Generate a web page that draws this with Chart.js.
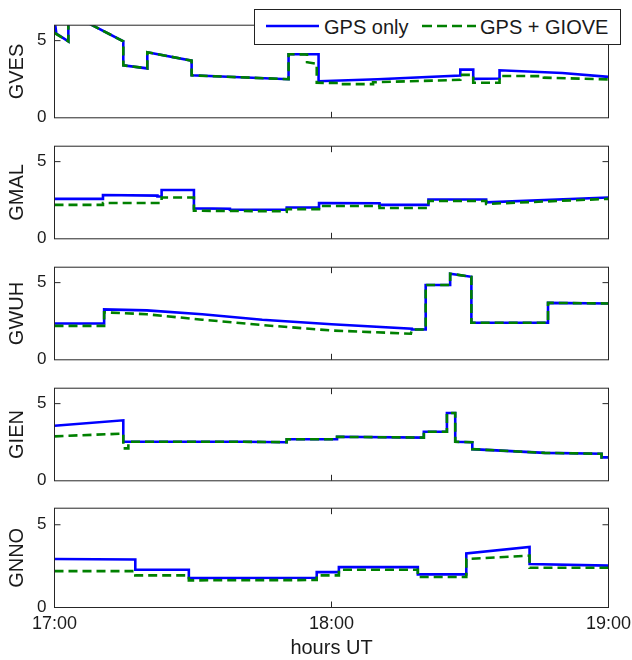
<!DOCTYPE html>
<html><head><meta charset="utf-8">
<script src="https://cdn.jsdelivr.net/npm/chart.js@4/dist/chart.umd.min.js"></script>
<style>
html,body{margin:0;padding:0;background:#fff;}
#wrap{position:relative;width:632px;height:660px;overflow:hidden;background:#fff;}
#wrap canvas{position:absolute;left:0;}
#legend{position:absolute;left:254px;top:9px;width:367px;height:36px;box-sizing:border-box;border:1px solid #222;background:#fff;font:20px "Liberation Sans",Arial,sans-serif;color:#1a1a1a;z-index:5;}
#legend span{position:absolute;top:5px;line-height:24px;white-space:nowrap;}
#legend svg{position:absolute;left:0;top:0;}
</style></head>
<body><div id="wrap">
<div id="legend">
<svg width="365" height="34"><line x1="11" y1="16" x2="64" y2="16" stroke="#0000ff" stroke-width="2.6"/><line x1="167" y1="16" x2="221" y2="16" stroke="#008000" stroke-width="2.6" stroke-dasharray="10,5"/></svg>
<span style="left:69px">GPS only</span><span style="left:225px">GPS + GIOVE</span>
</div>
</div>
<script>
// minutes after 17:00
const timeTicks = [0, 60, 120];
const timeLabels = ['17:00', '18:00', '19:00'];
const stations = ['GVES', 'GMAL', 'GWUH', 'GIEN', 'GNNO'];
const seriesNames = ['GPS only', 'GPS + GIOVE'];

const gvesGps = [[0,6.4],[0.4,5.45],[3.0,4.95],[3.0,6.8],[14.9,4.96],[14.9,3.4],[20.1,3.2],[20.1,4.25],[29.7,3.7],[29.7,2.75],[50.7,2.5],[50.7,4.12],[57.2,4.12],[57.2,2.37],[70,2.5],[87.9,2.74],[87.9,3.12],[90.7,3.12],[90.7,2.52],[96.4,2.55],[96.4,3.08],[110,2.9],[120,2.65]];
const gvesGiove = [[0,5.5],[3.0,4.95],[3.0,6.8],[14.9,4.96],[14.9,3.4],[20.1,3.2],[20.1,4.25],[29.7,3.7],[29.7,2.75],[50.7,2.5],[50.7,4.12],[54.7,4.1],[54.7,3.6],[56.8,3.5],[56.8,2.27],[62,2.25],[62,2.18],[69,2.18],[69,2.3],[87.9,2.46],[87.9,2.78],[90.7,2.78],[90.7,2.27],[96.4,2.27],[96.4,2.71],[106,2.7],[106,2.6],[120,2.49]];

const gmalGps = [[0,2.59],[10.5,2.59],[10.5,2.84],[22.3,2.8],[22.3,2.74],[23.2,2.74],[23.2,3.16],[30.2,3.16],[30.2,1.97],[38,1.95],[38,1.88],[50.3,1.88],[50.3,2.03],[57.3,2.03],[57.3,2.32],[70.4,2.3],[70.4,2.2],[81,2.2],[81,2.55],[93.5,2.55],[93.5,2.36],[120,2.68]];
const gmalGiove = [[0,2.2],[10.5,2.2],[10.5,2.32],[23.2,2.32],[23.2,2.68],[30.2,2.68],[30.2,1.82],[49.5,1.78],[50.3,1.75],[50.3,1.92],[57.3,1.92],[57.3,2.13],[70.4,2.13],[70.4,2.0],[81,2.0],[81,2.45],[93.5,2.45],[93.5,2.26],[120,2.59]];

const gwuhGps = [[0,2.35],[10.75,2.35],[10.75,3.27],[20,3.2],[32,2.95],[45,2.6],[60,2.3],[77.4,2.02],[77.4,1.96],[80.4,1.96],[80.4,4.85],[85.7,4.85],[85.7,5.58],[90.3,5.38],[90.3,2.4],[106.9,2.4],[106.9,3.69],[120,3.65]];
const gwuhGiove = [[0,2.2],[10.75,2.2],[10.75,3.08],[20,2.95],[32,2.6],[45,2.25],[60,1.9],[77.2,1.69],[77.4,1.96],[80.4,1.96],[80.4,4.85],[85.7,4.85],[85.7,5.58],[90.3,5.38],[90.3,2.4],[106.9,2.4],[106.9,3.69],[120,3.65]];

const gienGps = [[0,3.57],[14.9,3.92],[14.9,2.53],[40.7,2.53],[50.3,2.5],[50.3,2.69],[61.2,2.69],[61.2,2.85],[80,2.8],[80,3.18],[85,3.18],[85,4.39],[86.8,4.39],[86.8,2.53],[90.5,2.5],[90.5,2.05],[106.2,1.81],[118.5,1.75],[118.5,1.52],[120,1.52]];
const gienGiove = [[0,2.88],[14.9,3.06],[14.9,2.1],[16,2.1],[16,2.53],[40.7,2.53],[50.3,2.5],[50.3,2.69],[61.2,2.69],[61.2,2.85],[80,2.8],[80,3.18],[85,3.18],[85,4.39],[86.8,4.39],[86.8,2.53],[90.5,2.5],[90.5,2.05],[106.2,1.81],[118.5,1.75],[118.5,1.52],[120,1.52]];

const gnnoGps = [[0,2.93],[17.5,2.9],[17.5,2.28],[29.1,2.28],[29.1,1.78],[56.8,1.8],[56.8,2.14],[61.6,2.14],[61.6,2.44],[78.7,2.44],[78.7,2.0],[89.2,2.0],[89.2,3.27],[102.9,3.66],[102.9,2.63],[120,2.53]];
const gnnoGiove = [[0,2.2],[17.5,2.2],[17.5,1.94],[29.1,1.94],[29.1,1.64],[56.8,1.66],[56.8,1.94],[61.6,1.94],[61.6,2.28],[78.7,2.28],[78.7,1.84],[89.2,1.84],[89.2,2.93],[102.9,3.13],[102.9,2.4],[120,2.4]];

const gpsSeries = [gvesGps, gmalGps, gwuhGps, gienGps, gnnoGps];
const gioveSeries = [gvesGiove, gmalGiove, gwuhGiove, gienGiove, gnnoGiove];

// layout
const W = 632, H = 660;
const panelTops = [19.5, 140.5, 261.5, 382.5, 502.5];
const panelH = 105;
const plotLeft = 54.5, plotRight = 608.5;
const FONT = '"Liberation Sans", Arial, Helvetica, sans-serif';
const INK = '#1a1a1a';

const framePlugin = {
  id: 'frame',
  afterDatasetsDraw(chart) {
    const {ctx, chartArea: a, scales: {x, y}} = chart;
    ctx.save();
    ctx.strokeStyle = '#262626';
    ctx.lineWidth = 1;
    ctx.strokeRect(a.left, a.top, a.right - a.left, a.bottom - a.top);
    ctx.beginPath();
    const xt = x.getPixelForValue(timeTicks[1]);
    ctx.moveTo(xt, a.bottom); ctx.lineTo(xt, a.bottom - 6);
    ctx.moveTo(xt, a.top); ctx.lineTo(xt, a.top + 6);
    const yt = y.getPixelForValue(5);
    ctx.moveTo(a.left, yt); ctx.lineTo(a.left + 6, yt);
    ctx.moveTo(a.right, yt); ctx.lineTo(a.right - 6, yt);
    ctx.stroke();
    ctx.restore();
  }
};

const wrap = document.getElementById('wrap');
const legendEl = document.getElementById('legend');

stations.forEach((name, i) => {
  const last = i === stations.length - 1;
  const top = panelTops[i];
  const cTop = Math.floor(top) - 12;
  const cH = last ? H - cTop : panelH + 24;
  const cv = document.createElement('canvas');
  cv.width = W; cv.height = cH;
  cv.style.top = cTop + 'px';
  wrap.insertBefore(cv, legendEl);
  const padTop = top - cTop;
  const axisH = last ? (H - (top + panelH)) : 0;
  const padBottom = last ? 0 : cH - padTop - panelH;

  new Chart(cv, {
    type: 'line',
    data: {
      datasets: [
        {label: seriesNames[0], data: gpsSeries[i].map(p => ({x: p[0], y: p[1]})),
         borderColor: '#0000ff', borderWidth: 2.6, pointRadius: 0, tension: 0, fill: false, order: 2, clip: 0},
        {label: seriesNames[1], data: gioveSeries[i].map(p => ({x: p[0], y: p[1]})),
         borderColor: '#008000', borderWidth: 2.6, borderDash: [9, 5], pointRadius: 0, tension: 0, fill: false, order: 1, clip: 0}
      ]
    },
    options: {
      responsive: false, animation: false, devicePixelRatio: 1,
      layout: {padding: {left: 0, right: W - plotRight, top: padTop, bottom: padBottom}},
      plugins: {legend: {display: false}, tooltip: {enabled: false}},
      scales: {
        x: {
          type: 'linear', min: 0, max: 120,
          grid: {display: false, drawTicks: false}, border: {display: false},
          afterBuildTicks: s => { s.ticks = timeTicks.map(v => ({value: v})); },
          afterFit: s => { s.height = axisH; s.paddingLeft = 0; s.paddingRight = 0; },
          ticks: {display: last, padding: 6, maxRotation: 0, autoSkip: false,
            font: {family: FONT, size: 18}, color: INK,
            callback: v => timeLabels[timeTicks.indexOf(v)] || ''},
          title: {display: last, text: 'hours UT', font: {family: FONT, size: 20}, color: INK, padding: {top: 0, bottom: 0}}
        },
        y: {
          type: 'linear', min: 0, max: 6,
          grid: {display: false, drawTicks: false}, border: {display: false},
          afterBuildTicks: s => { s.ticks = [{value: 0}, {value: 5}]; },
          afterFit: s => { s.width = plotLeft; },
          ticks: {padding: 8, font: {family: FONT, size: 17}, color: INK},
          title: {display: true, text: name, font: {family: FONT, size: 20}, color: INK, padding: {top: 5, bottom: 0}}
        }
      }
    },
    plugins: [framePlugin]
  });
});
</script>
</body></html>
